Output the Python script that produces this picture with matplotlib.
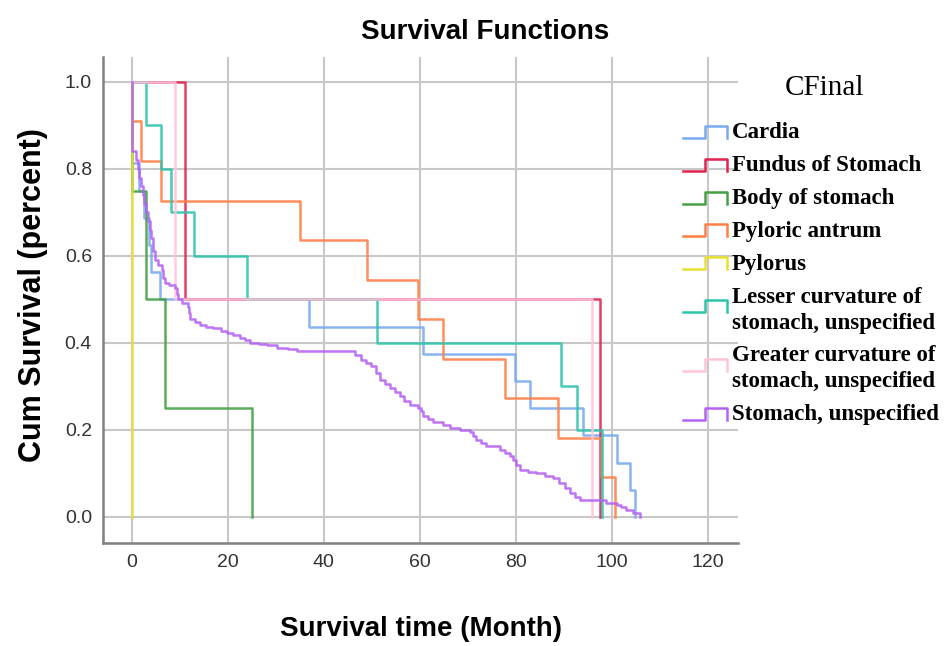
import matplotlib
matplotlib.use('Agg')
import matplotlib.pyplot as plt
from matplotlib.lines import Line2D

# Kaplan-Meier steps: time (months) and cum survival after each step
cardia_t = [0, 0, 1.5, 2.5, 3.6, 4.0, 5.9, 37.0, 60.7, 79.8, 82.9, 94.0, 101.0, 103.75, 104.8]
cardia_s = [1.0, 0.8125, 0.75, 0.6875, 0.625, 0.5625, 0.5, 0.4375, 0.375, 0.3125, 0.25, 0.1875, 0.125, 0.0625, 0.0]

fundus_t = [0, 11.0, 97.5]
fundus_s = [1.0, 0.5, 0.0]

body_t = [0, 0, 3.0, 7.0, 25.0]
body_s = [1.0, 0.75, 0.5, 0.25, 0.0]

antrum_t = [0, 0, 2.0, 6.0, 35.0, 48.9, 59.6, 64.85, 77.7, 88.8, 97.8, 100.6]
antrum_s = [1.0, 0.909, 0.818, 0.727, 0.636, 0.545, 0.4545, 0.364, 0.273, 0.182, 0.091, 0.0]

pylorus_t = [0, 0]
pylorus_s = [1.0, 0.0]

lesser_t = [0, 3.0, 6.0, 8.1, 13.0, 23.9, 51.0, 89.5, 92.8, 98.0]
lesser_s = [1.0, 0.9, 0.8, 0.7, 0.6, 0.5, 0.4, 0.3, 0.2, 0.0]

greater_t = [0, 9.0, 95.8]
greater_s = [1.0, 0.5, 0.0]

stomach_t = [0, 0, 0.8, 1.2, 1.6, 2.0, 2.3, 2.6, 2.9, 3.3, 3.7, 4.1, 4.5, 4.9, 5.5, 6.2,
             6.6, 6.9, 7.8, 9.0, 9.4, 9.7, 10.5, 11.7, 12.0, 12.2, 13.2, 14.3, 15.5, 17.0,
             18.5, 19.8, 21.1, 22.5, 23.5, 24.6, 26.5, 28.2, 30.2, 32.5, 34.4, 46.5, 47.8,
             48.8, 49.9, 50.8, 51.7, 52.7, 53.75, 54.8, 55.8, 56.8, 57.9, 59.6, 60.2, 60.7,
             61.8, 62.8, 64.8, 66.25, 68.3, 70.4, 71.1, 71.8, 72.8, 73.9, 76.7, 77.7, 78.75,
             79.4, 80.1, 80.8, 82.5, 84.3, 86.0, 87.8, 89.0, 90.2, 91.25, 92.3, 93.3, 98.9,
             101.0, 102.0, 103.0, 104.5, 105.8]
stomach_s = [1.0, 0.84, 0.82, 0.80, 0.78, 0.76, 0.74, 0.72, 0.70, 0.68, 0.66, 0.64, 0.61, 0.59, 0.58, 0.567,
             0.55, 0.538, 0.532, 0.526, 0.512, 0.50, 0.492, 0.483, 0.468, 0.455, 0.447, 0.441, 0.437, 0.433,
             0.428, 0.423, 0.418, 0.412, 0.406, 0.400, 0.397, 0.394, 0.388, 0.386, 0.382, 0.372, 0.361,
             0.354, 0.346, 0.330, 0.315, 0.305, 0.296, 0.287, 0.277, 0.267, 0.257, 0.250, 0.243, 0.231,
             0.225, 0.219, 0.212, 0.204, 0.200, 0.196, 0.187, 0.177, 0.170, 0.162, 0.154, 0.147, 0.139,
             0.131, 0.120, 0.108, 0.104, 0.100, 0.094, 0.089, 0.078, 0.066, 0.054, 0.046, 0.039, 0.033,
             0.028, 0.022, 0.016, 0.008, 0.0]

labels = ['Cardia', 'Fundus of Stomach', 'Body of stomach', 'Pyloric antrum', 'Pylorus',
          'Lesser curvature of\nstomach, unspecified', 'Greater curvature of\nstomach, unspecified',
          'Stomach, unspecified']
colors = ['#78aaf0', '#e0234f', '#45a045', '#ff7f45', '#e9e132', '#2ec4ac', '#ffc4dc', '#b462f5']
series = [(cardia_t, cardia_s), (fundus_t, fundus_s), (body_t, body_s), (antrum_t, antrum_s),
          (pylorus_t, pylorus_s), (lesser_t, lesser_s), (greater_t, greater_s), (stomach_t, stomach_s)]

sans = ['Liberation Sans', 'DejaVu Sans']
serif = ['Liberation Serif', 'DejaVu Serif']

W, H = 944, 646
fig = plt.figure(figsize=(W / 100, H / 100), dpi=100)
# axes box in pixels: left 103, right 738, top 57, bottom 543
ax = fig.add_axes([103 / W, 1 - 543 / H, (738 - 103) / W, (543 - 57) / H])

for (t, s), c in zip(series, colors):
    ax.plot(t, s, drawstyle='steps-post', color=c, lw=1.8, alpha=0.88, zorder=3)

ax.set_xlim(-6, 126.3)
ax.set_ylim(-0.06, 1.057)
ax.set_xticks([0, 20, 40, 60, 80, 100, 120])
ax.set_yticks([0.0, 0.2, 0.4, 0.6, 0.8, 1.0])
ax.set_yticklabels(['0.0', '0.2', '0.4', '0.6', '0.8', '1.0'])
ax.grid(True, color='#c8c8c8', lw=1.5, zorder=0)
ax.set_axisbelow(True)
for side in ['top', 'right']:
    ax.spines[side].set_visible(False)
for side in ['left', 'bottom']:
    ax.spines[side].set_color('#808080')
    ax.spines[side].set_linewidth(1.8)
ax.tick_params(length=0, pad=8, labelsize=14, labelcolor='#333333')
for lab in ax.get_xticklabels() + ax.get_yticklabels():
    lab.set_family(sans)

fig.text(485 / W, 1 - 32 / H, 'Survival Functions', family=sans, fontsize=20, fontweight='bold',
         ha='center', va='center')
ax.set_xlabel('Survival time (Month)', family=sans, fontsize=20, fontweight='bold')
ax.xaxis.set_label_coords(0.5, (543 - 629) / 486)
ax.xaxis.label.set_va('center')
ax.set_ylabel('Cum Survival (percent)', family=sans, fontsize=22, fontweight='bold')
ax.yaxis.set_label_coords((33 - 103) / 635, (543 - 295) / 486)
ax.yaxis.label.set_va('center')

# legend drawn by hand to match the SPSS layout
fig.text(825 / W, 1 - 88 / H, 'CFinal', family=serif, fontsize=21, ha='center', va='center')
y = 133
for lab, c in zip(labels, colors):
    lines = lab.split('\n')
    yc = y - 1 if len(lines) == 1 else y + 9
    hx = [683, 705, 705, 727, 727]
    hy = [yc + 6, yc + 6, yc - 6, yc - 6, yc + 6]
    fig.add_artist(Line2D([v / W for v in hx], [1 - v / H for v in hy], color=c, lw=1.8,
                          transform=fig.transFigure))
    for i, line in enumerate(lines):
        fig.text(732 / W, 1 - (y + 26 * i) / H, line, family=serif, fontsize=16.5, fontweight='bold',
                 ha='left', va='center')
    y += 32.8 + 26 * (len(lines) - 1)

fig.savefig('out.png', dpi=100)
